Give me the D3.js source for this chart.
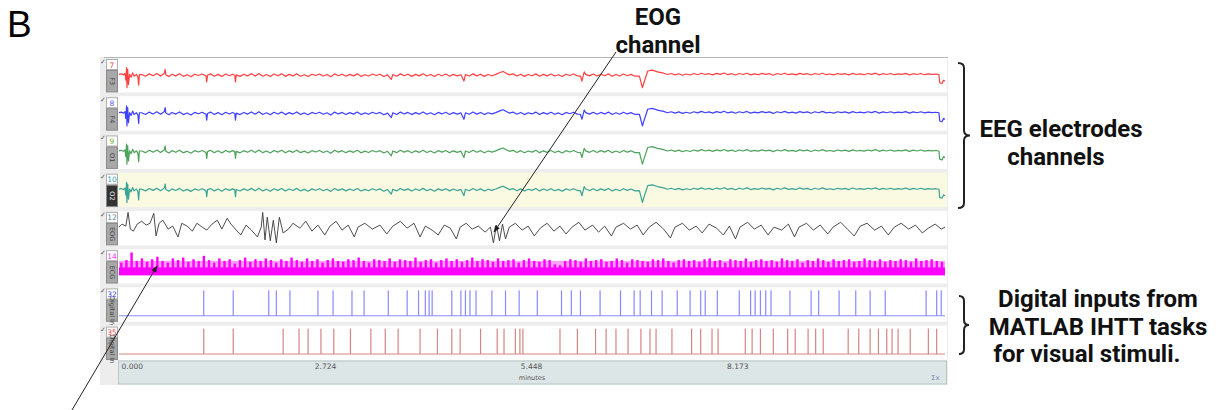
<!DOCTYPE html>
<head>
	<meta charset="utf-8">
	<title>EEG recording panel</title>
	<script src="https://cdn.jsdelivr.net/npm/d3@7/dist/d3.min.js"></script>
	<style>
		body { margin: 0; background: white; }
		.note { font-family: Roboto, 'Liberation Sans', sans-serif; font-weight: bold; font-size: 24px; fill: #111; }
		.small { font-family: 'DejaVu Sans', sans-serif; font-size: 7.5px; fill: #555; }
	</style>
</head>
<body>
	<script>
		// channels shown in the panel, top to bottom
		var channelIds = [7, 8, 9, 10, 12, 14, 32, 35];
		var channelNames = ["F3", "F4", "O1", "O2", "EOG", "ECG", "Digital In", "Digital In"];
		var channelKinds = ["eeg", "eeg", "eeg", "eeg", "eog", "ecg", "dig", "dig"];

		// tick labels of the time axis (minutes)
		var tickValues = [0, 2.724, 5.448, 8.173];
		var timeMax = 10.92;

		// EEG electrodes share the same artefacts: [minutes, normalised amplitude]
		var eegTrace = [
			[0.00,0.05],[0.03,0.08],[0.06,0.02],[0.08,0.10],[0.09,-0.30],[0.10,0.45],[0.105,-0.75],[0.115,0.35],
			[0.125,-0.55],[0.14,0.05],[0.16,-0.12],[0.18,0.14],[0.20,-0.06],[0.23,0.05],[0.25,-0.10],[0.26,-0.60],
			[0.27,0.04],[0.30,0.04],[0.35,-0.06],[0.40,0.08],[0.45,-0.03],[0.50,0.10],[0.55,-0.05],[0.60,0.12],
			[0.61,0.35],[0.62,0.02],[0.66,-0.08],[0.70,0.06],[0.75,-0.04],[0.80,0.09],[0.85,-0.07],[0.90,0.03],
			[0.95,-0.09],[1.00,0.06],[1.05,-0.02],[1.10,0.07],[1.15,-0.05],[1.16,-0.40],[1.17,0.00],[1.21,0.08],
			[1.26,-0.06],[1.31,0.05],[1.36,-0.08],[1.41,0.07],[1.46,-0.03],[1.50,0.06],[1.53,0.00],[1.54,-0.40],
			[1.55,0.02],[1.60,-0.07],[1.65,0.06],[1.70,-0.04],[1.75,0.09],[1.80,-0.05],[1.85,0.10],[1.90,-0.06],
			[1.95,0.04],[2.00,-0.08],[2.05,0.07],[2.10,-0.03],[2.15,0.08],[2.20,-0.07],[2.25,0.05],[2.30,-0.04],
			[2.35,0.09],[2.40,-0.06],[2.45,0.03],[2.50,-0.08],[2.55,0.06],[2.60,-0.02],[2.65,0.07],[2.70,-0.05],
			[2.75,0.04],[2.80,-0.09],[2.85,0.08],[2.90,-0.03],[2.95,0.06],[3.00,-0.06],[3.05,0.05],[3.10,-0.04],
			[3.15,0.08],[3.20,-0.07],[3.25,0.03],[3.30,-0.05],[3.35,0.07],[3.40,-0.02],[3.45,0.06],[3.50,-0.08],
			[3.55,0.02],[3.60,-0.25],[3.62,0.04],[3.67,-0.06],[3.72,0.08],[3.77,-0.03],[3.82,0.06],[3.87,-0.07],
			[3.92,0.05],[3.97,-0.04],[4.02,0.09],[4.07,-0.05],[4.12,0.04],[4.17,-0.08],[4.22,0.06],[4.27,-0.03],
			[4.32,0.07],[4.37,-0.06],[4.42,0.05],[4.47,-0.04],[4.52,0.03],[4.56,-0.35],[4.58,0.04],[4.63,-0.05],
			[4.68,0.08],[4.73,-0.04],[4.78,0.06],[4.83,-0.07],[4.88,0.04],[4.93,-0.03],[4.98,0.05],[5.05,0.18],
			[5.08,0.22],[5.12,0.12],[5.16,0.02],[5.21,0.08],[5.26,-0.05],[5.31,0.06],[5.36,-0.07],[5.41,0.04],
			[5.46,-0.03],[5.51,0.08],[5.56,-0.06],[5.61,0.05],[5.66,-0.04],[5.71,0.07],[5.76,-0.05],[5.81,0.03],
			[5.86,-0.08],[5.91,0.06],[5.96,-0.02],[6.01,0.07],[6.06,-0.04],[6.10,-0.05],[6.12,-0.35],[6.15,0.20],
			[6.17,0.05],[6.22,-0.04],[6.27,0.07],[6.32,-0.05],[6.37,0.06],[6.42,-0.03],[6.47,0.08],[6.52,-0.06],
			[6.57,0.04],[6.62,-0.05],[6.67,0.07],[6.72,-0.03],[6.77,0.05],[6.82,-0.06],[6.88,-0.05],[6.92,-0.75],
			[6.95,-0.30],[6.99,0.25],[7.05,0.30],[7.12,0.20],[7.20,0.12],[7.25,0.04],[7.30,0.10],[7.35,0.02],
			[7.40,0.09],[7.45,0.00],[7.50,0.07],[7.55,0.01],[7.60,0.10],[7.65,0.03],[7.70,0.12],[7.75,0.04],
			[7.80,0.09],[7.85,0.02],[7.90,0.11],[7.95,0.05],[8.00,0.13],[8.05,0.03],[8.10,0.09],[8.15,0.01],
			[8.20,0.10],[8.25,0.04],[8.30,0.12],[8.35,0.02],[8.40,0.08],[8.45,0.03],[8.50,0.11],[8.55,0.05],
			[8.60,0.09],[8.65,0.00],[8.70,0.10],[8.75,0.04],[8.80,0.12],[8.85,0.03],[8.90,0.08],[8.95,0.02],
			[9.00,0.11],[9.05,0.05],[9.10,0.09],[9.15,0.01],[9.20,0.10],[9.25,0.04],[9.30,0.12],[9.35,0.03],
			[9.40,0.07],[9.45,0.02],[9.50,0.10],[9.55,0.05],[9.60,0.09],[9.65,0.02],[9.70,0.11],[9.75,0.04],
			[9.80,0.08],[9.85,0.03],[9.90,0.10],[9.95,0.05],[10.00,0.12],[10.05,0.02],[10.10,0.09],[10.15,0.04],
			[10.20,0.10],[10.25,0.03],[10.30,0.08],[10.35,0.05],[10.40,0.11],[10.45,0.02],[10.50,0.09],[10.55,0.04],
			[10.60,0.10],[10.65,0.03],[10.70,0.08],[10.75,0.05],[10.80,0.07],[10.84,0.04],[10.85,-0.45],[10.88,-0.50],
			[10.90,-0.30],[10.92,-0.35]
		];

		// EOG channel: [minutes, normalised amplitude]
		var eogTrace = [
			[0.00,0.06],[0.04,0.24],[0.09,0.12],[0.12,0.94],[0.15,-0.06],[0.19,-0.18],[0.24,0.24],[0.30,0.41],
			[0.36,0.18],[0.41,0.29],[0.46,0.88],[0.49,-0.47],[0.53,0.29],[0.58,0.47],[0.65,-0.06],[0.71,0.12],
			[0.78,-0.53],[0.83,0.29],[0.90,0.12],[0.97,-0.18],[1.03,0.29],[1.10,0.06],[1.16,-0.12],[1.23,0.24],
			[1.30,0.47],[1.36,-0.06],[1.43,0.59],[1.48,0.24],[1.55,-0.12],[1.61,-0.41],[1.68,0.18],[1.75,-0.12],
			[1.83,-0.53],[1.88,0.06],[1.90,0.94],[1.93,-0.71],[1.96,0.65],[2.00,-0.76],[2.04,0.47],[2.08,-0.88],
			[2.12,0.65],[2.17,-0.29],[2.24,-0.06],[2.30,0.29],[2.39,0.00],[2.47,0.41],[2.55,-0.18],[2.63,0.18],
			[2.72,-0.41],[2.79,0.12],[2.87,0.41],[2.95,-0.12],[3.03,0.18],[3.11,-0.53],[3.16,0.06],[3.25,0.29],
			[3.35,-0.06],[3.45,0.18],[3.54,-0.35],[3.62,0.12],[3.72,0.41],[3.81,0.00],[3.90,0.29],[3.98,-0.53],
			[4.05,0.12],[4.14,-0.12],[4.22,-0.41],[4.30,0.18],[4.38,0.00],[4.46,-0.65],[4.51,0.06],[4.59,0.29],
			[4.67,-0.06],[4.75,0.12],[4.84,-0.24],[4.91,0.06],[4.95,-0.88],[4.99,0.18],[5.03,-0.76],[5.07,0.24],
			[5.11,-0.65],[5.16,0.06],[5.24,0.29],[5.33,-0.12],[5.41,0.12],[5.49,-0.47],[5.57,0.00],[5.66,0.29],
			[5.75,-0.18],[5.83,0.12],[5.91,-0.35],[5.99,0.06],[6.08,0.35],[6.16,-0.12],[6.26,0.18],[6.34,-0.24],
			[6.42,0.12],[6.51,-0.47],[6.57,0.06],[6.67,0.29],[6.76,-0.06],[6.85,0.18],[6.93,-0.41],[7.01,0.06],
			[7.10,0.35],[7.20,-0.06],[7.29,-0.59],[7.35,0.06],[7.45,0.29],[7.54,-0.12],[7.63,0.12],[7.71,-0.29],
			[7.80,0.24],[7.90,0.00],[7.99,-0.41],[8.07,0.12],[8.15,-0.65],[8.21,0.06],[8.31,0.35],[8.40,-0.06],
			[8.49,0.18],[8.58,-0.41],[8.66,0.06],[8.76,-0.12],[8.85,0.24],[8.93,-0.53],[8.99,0.06],[9.09,0.29],
			[9.18,-0.12],[9.27,0.18],[9.37,-0.35],[9.44,0.06],[9.54,0.35],[9.63,-0.06],[9.72,-0.47],[9.80,0.12],
			[9.89,0.29],[9.99,-0.12],[10.08,0.12],[10.17,-0.41],[10.25,0.06],[10.34,0.29],[10.44,-0.06],[10.53,0.18],
			[10.62,-0.29],[10.70,0.00],[10.79,0.24],[10.87,-0.06],[10.92,0.06]
		];

		// ECG beats: peak height of each beat, in recording order
		var ecgPeaks = [
			0.70,0.85,1.30,0.80,0.95,0.75,0.90,1.05,0.80,0.70,0.95,0.85,1.00,0.75,0.90,0.80,1.10,0.85,0.70,0.95,
			0.80,0.90,0.65,0.85,1.00,0.75,0.90,0.80,0.95,0.85,0.70,0.90,0.80,1.00,0.85,0.75,0.95,0.80,0.90,0.70,
			0.85,0.95,0.80,0.75,0.90,0.85,1.00,0.80,0.70,0.90,0.85,0.80,0.95,0.75,0.90,0.85,0.80,1.00,0.75,0.85,
			0.90,0.70,0.85,0.95,0.80,0.90,0.75,0.85,1.00,0.80,0.90,0.85,0.75,0.95,0.80,0.85,0.90,0.70,0.85,0.95,
			0.80,0.75,0.90,0.85,0.60,0.55,0.80,0.90,0.85,0.75,0.95,0.80,0.85,0.90,0.75,0.80,0.95,0.85,0.70,0.90,
			0.85,0.80,0.75,0.90,0.85,0.95,0.80,0.70,0.85,0.90,0.80,0.85,0.75,0.90,0.95,0.80,0.85,0.70,0.90,0.85,
			0.80,0.95,0.75,0.85,0.90,0.80,0.85,0.75,0.95,0.85,0.80,0.90,0.70,0.85,0.80,0.95,0.85,0.75,0.90,0.80,
			0.85,0.90,0.75,0.80,0.95,0.85,0.80,0.90,0.75,0.85,0.80,0.90,0.85,0.75,0.95,0.80,0.85,0.90,0.80,0.75
		];

		// digital input pulses (minutes)
		var digital32 = [1.12,1.51,1.98,2.08,2.26,2.63,2.83,3.08,3.24,3.56,3.81,3.96,4.05,4.10,4.14,4.40,4.52,4.58,
			4.64,4.72,4.93,5.11,5.29,5.53,5.85,5.98,6.10,6.36,6.63,6.81,6.89,7.04,7.18,7.38,7.55,7.69,7.75,7.91,
			8.20,8.35,8.41,8.48,8.55,8.62,8.87,9.15,9.25,9.52,9.74,9.93,10.13,10.67,10.81,10.87];
		var digital35 = [1.12,1.51,2.17,2.38,2.50,2.67,2.84,3.06,3.33,3.52,3.69,3.98,4.21,4.40,4.51,4.78,5.00,5.09,
			5.24,5.30,5.34,5.83,6.06,6.30,6.44,6.57,6.73,6.90,7.02,7.10,7.31,7.57,7.69,7.84,7.92,8.28,8.37,8.48,
			8.65,8.84,8.94,9.11,9.21,9.31,9.64,9.78,9.93,10.04,10.15,10.22,10.30,10.46,10.70,10.81];

		var colors = ["#ff2b2b", "#2b2bff", "#3a984a", "#24998c", "#3a3a3a", "#ff00ff", "#8a8aff", "#d48585"];
		var numColors = ["#ff4040", "#6060ff", "#7ab040", "#30a0b0", "#6080a0", "#ff40ff", "#4040ff", "#ff4040"];

		var width = 1220, height = 410;
		var svg = d3.select("body").append("svg")
			.attr("width", width)
			.attr("height", height);

		var x = d3.scaleLinear().domain([0, timeMax]).range([119, 945]);
		var rows = d3.scaleBand().domain(channelIds).range([58, 360]).paddingInner(0.1);

		// panel background
		svg.append("rect").attr("x", 100).attr("y", 57).attr("width", 848).attr("height", 328).attr("fill", "#ededed");
		svg.append("line").attr("x1", 104).attr("x2", 948).attr("y1", 57.5).attr("y2", 57.5).attr("stroke", "#b5b5b5");

		channelIds.forEach(function(id, i) {
			var top = rows(id), h = rows.bandwidth(), bottom = top + h;
			var g = svg.append("g");
			var kind = channelKinds[i];

			g.append("rect").attr("x", 118).attr("y", top).attr("width", 829).attr("height", h)
				.attr("fill", i == 3 ? "#fafae2" : "white");

			// check mark + label column
			g.append("text").attr("class", "small").attr("x", 100).attr("y", top + 6)
				.style("font-size", "7px").text("\u2713");
			g.append("rect").attr("x", 106.5).attr("y", top + 1.5).attr("width", 11).attr("height", 10)
				.attr("fill", "white").attr("stroke", "#b0b0b0");
			g.append("text").attr("class", "small").attr("x", 112).attr("y", top + 9.5)
				.attr("text-anchor", "middle").style("fill", numColors[i]).text(id);
			g.append("rect").attr("x", 106.5).attr("y", top + 12.5).attr("width", 11).attr("height", h - 13)
				.attr("fill", i == 3 ? "#333" : "#a8a8a8").attr("stroke", "#8a8a8a");
			g.append("text").attr("class", "small")
				.attr("transform", "translate(110," + (top + 12.5 + (h - 13) / 2) + ") rotate(90)")
				.attr("text-anchor", "middle")
				.style("fill", i == 3 ? "#eee" : "#444").style("font-size", "6.5px")
				.text(channelNames[i]);

			var line = d3.line().x(function(d) { return x(d[0]); });

			if (kind == "eeg" || kind == "eog") {
				var y = d3.scaleLinear().domain([-1, 1]).range([bottom - 0.5, top + 0.5]);
				line.y(function(d) { return y(d[1]); });
				g.append("path")
					.attr("d", line(kind == "eeg" ? eegTrace : eogTrace))
					.attr("fill", "none")
					.attr("stroke", colors[i])
					.attr("stroke-width", kind == "eog" ? 1 : 1.2)
					.attr("stroke-opacity", 0.9)
					.attr("stroke-linejoin", "round");
			}
			else if (kind == "ecg") {
				var y = d3.scaleLinear().domain([0, 1]).range([bottom - 9, bottom - 26]);
				var beat = d3.scaleLinear().domain([0, ecgPeaks.length - 1]).range([0.03, 10.88]);
				g.append("rect").attr("x", x(0)).attr("y", y(0.8)).attr("width", x(timeMax) - x(0))
					.attr("height", y(0) - y(0.8)).attr("fill", "#ff80ff").attr("opacity", 0.75);
				g.append("rect").attr("x", x(0)).attr("y", y(0.42)).attr("width", x(timeMax) - x(0))
					.attr("height", y(-0.05) - y(0.42)).attr("fill", colors[i]);
				g.selectAll(".beat")
					.data(ecgPeaks)
					.enter().append("rect")
						.attr("x", function(d, k) { return x(beat(k)) - 1.2; })
						.attr("y", function(d) { return y(d); })
						.attr("width", 2.4)
						.attr("height", function(d) { return y(0) - y(d); })
						.attr("fill", colors[i]);
			}
			else {
				var y = d3.scaleLinear().domain([0, 1]).range([bottom - 6, top + 3]);
				var pulses = id == 32 ? digital32 : digital35;
				g.append("line").attr("x1", x(0)).attr("x2", x(timeMax))
					.attr("y1", y(0)).attr("y2", y(0))
					.attr("stroke", colors[i]).attr("stroke-width", 1);
				g.selectAll(".pulse")
					.data(pulses)
					.enter().append("rect")
						.attr("x", function(d) { return x(d) - 0.6; })
						.attr("y", y(1))
						.attr("width", 1.2)
						.attr("height", y(0) - y(1))
						.attr("fill", colors[i]);
			}
		});

		// time axis strip
		var axisTop = 361;
		svg.append("rect").attr("x", 118.5).attr("y", axisTop).attr("width", 828).attr("height", 23)
			.attr("fill", "#dde6e6").attr("stroke", "#b8c6c6");
		var axis = svg.append("g")
			.attr("transform", "translate(0," + axisTop + ")")
			.call(d3.axisBottom(x).tickValues(tickValues).tickFormat(d3.format(".3f")).tickSize(0).tickPadding(3));
		axis.select(".domain").remove();
		axis.selectAll("text")
			.attr("font-family", "'DejaVu Sans', sans-serif")
			.attr("font-size", 7.5)
			.attr("fill", "#555")
			.attr("text-anchor", function(d) { return d == 0 ? "start" : "middle"; })
			.attr("dx", function(d) { return d == 0 ? 2 : 0; });
		svg.append("text").attr("class", "small").attr("x", x(timeMax / 2)).attr("y", axisTop + 19)
			.attr("text-anchor", "middle").style("font-size", "6.5px").text("minutes");
		svg.append("text").attr("class", "small").attr("x", 931).attr("y", axisTop + 19)
			.style("font-size", "7px").style("fill", "#7a86c0").text("\u03a3x");

		// annotations
		svg.append("text").attr("x", 7).attr("y", 37)
			.attr("font-family", "'Liberation Sans', Arial, sans-serif").attr("font-size", 37).text("B");

		var notes = [
			{t: "EOG", x: 658, y: 25},
			{t: "channel", x: 658, y: 53},
			{t: "EEG electrodes", x: 1061, y: 137},
			{t: "channels", x: 1056, y: 165},
			{t: "Digital inputs from", x: 1098, y: 307},
			{t: "MATLAB IHTT tasks", x: 1098, y: 335},
			{t: "for visual stimuli.", x: 1087, y: 362}
		];
		svg.selectAll(".note")
			.data(notes)
			.enter().append("text")
				.attr("class", "note")
				.attr("x", function(d) { return d.x; })
				.attr("y", function(d) { return d.y; })
				.attr("text-anchor", "middle")
				.text(function(d) { return d.t; });

		function brace(x0, y0, x1, y1, tip) {
			var ym = (y0 + y1) / 2, r = 5;
			return "M" + x0 + "," + y0 + " Q" + x1 + "," + y0 + " " + x1 + "," + (y0 + r)
				+ " L" + x1 + "," + (ym - r) + " Q" + x1 + "," + ym + " " + tip + "," + ym
				+ " Q" + x1 + "," + ym + " " + x1 + "," + (ym + r)
				+ " L" + x1 + "," + (y1 - r) + " Q" + x1 + "," + y1 + " " + x0 + "," + y1;
		}
		svg.append("path").attr("d", brace(958, 63, 964, 208, 970))
			.attr("fill", "none").attr("stroke", "#222").attr("stroke-width", 2);
		svg.append("path").attr("d", brace(959, 296, 964, 354, 969))
			.attr("fill", "none").attr("stroke", "#222").attr("stroke-width", 2);

		svg.append("defs").append("marker")
			.attr("id", "head").attr("viewBox", "0 0 10 10").attr("refX", 9).attr("refY", 5)
			.attr("markerWidth", 7).attr("markerHeight", 7).attr("orient", "auto")
			.append("path").attr("d", "M0,1 L10,5 L0,9 z").attr("fill", "#222");

		svg.append("line").attr("x1", 616).attr("y1", 52).attr("x2", 494).attr("y2", 232)
			.attr("stroke", "#222").attr("stroke-width", 1).attr("marker-end", "url(#head)");
		svg.append("line").attr("x1", 72).attr("y1", 410).attr("x2", 157).attr("y2", 266)
			.attr("stroke", "#222").attr("stroke-width", 1).attr("marker-end", "url(#head)");
	</script>
</body>
